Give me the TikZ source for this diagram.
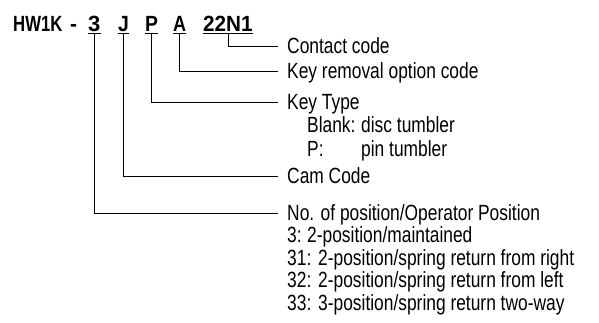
\documentclass[tikz,border=0pt]{standalone}
\usepackage{fontspec}
\setmainfont[FakeStretch=0.79]{Liberation Sans}
\newfontfamily\titlefont{Liberation Sans}
\begin{document}
\begin{tikzpicture}[x=1pt,y=-1pt,
  code/.style={anchor=base west, inner xsep=0pt, inner ysep=2.5pt, text depth=0pt,
    font=\titlefont\bfseries\fontsize{22}{26}\selectfont},
  lbl/.style={anchor=west, inner sep=0pt, text height=15.7pt, text depth=0pt,
    font=\fontsize{22}{26}\selectfont},
  conn/.style={line width=0.8pt},
  uline/.style={line width=0.9pt}]
\useasboundingbox (0,0) rectangle (599,322);
% title pieces
\node[code] (hw) at (13,31) {\scalebox{0.76}[1]{HW1K}};
\node[code] (dash) at (70,31) {\scalebox{0.95}[1]{-}};
\node[code] (c3) at (88,31) {\scalebox{1.0}[1]{3}};
\node[code] (cJ) at (118,31) {\scalebox{0.88}[1]{J}};
\node[code] (cP) at (145,31) {\scalebox{0.88}[1]{P}};
\node[code] (cA) at (173,31) {\scalebox{0.82}[1]{A}};
\node[code] (c22) at (203,31) {\scalebox{0.94}[1]{22N1}};
\foreach \n in {c3,cJ,cP,cA,c22} \draw[uline] (\n.south west) -- (\n.south east);
% labels
\node[lbl] (contact) at (287,46) {Contact code};
\node[lbl] (keyrem) at (287,71) {Key removal option code};
\node[lbl] (keytype) at (287,102) {Key Type};
\node[lbl] (blank) at (307,125) {Blank:};
\node[lbl] (disc) at (361,125) {disc tumbler};
\node[lbl] (pp) at (307,149) {P:};
\node[lbl] (pin) at (361,149) {pin tumbler};
\node[lbl] (cam) at (287,176) {Cam Code};
\node[lbl] (nopos) at (287,213) {No. of position/Operator Position};
\node[lbl] (o3) at (287,235) {3:};
\node[lbl] (o3t) at (307,235) {2-position/maintained};
\node[lbl] (o31) at (287,258) {31:};
\node[lbl] (o31t) at (318,258) {2-position/spring return from right};
\node[lbl] (o32) at (287,280) {32:};
\node[lbl] (o32t) at (318,280) {2-position/spring return from left};
\node[lbl] (o33) at (287,303) {33:};
\node[lbl] (o33t) at (318,303) {3-position/spring return two-way};
% connectors
\draw[conn] (c22.south) |- ([xshift=-9pt]contact.west);
\draw[conn] (cA.south) |- ([xshift=-9pt]keyrem.west);
\draw[conn] (cP.south) |- ([xshift=-9pt]keytype.west);
\draw[conn] (cJ.south) |- ([xshift=-9pt]cam.west);
\draw[conn] (c3.south) |- ([xshift=-9pt]nopos.west);
\end{tikzpicture}
\end{document}
